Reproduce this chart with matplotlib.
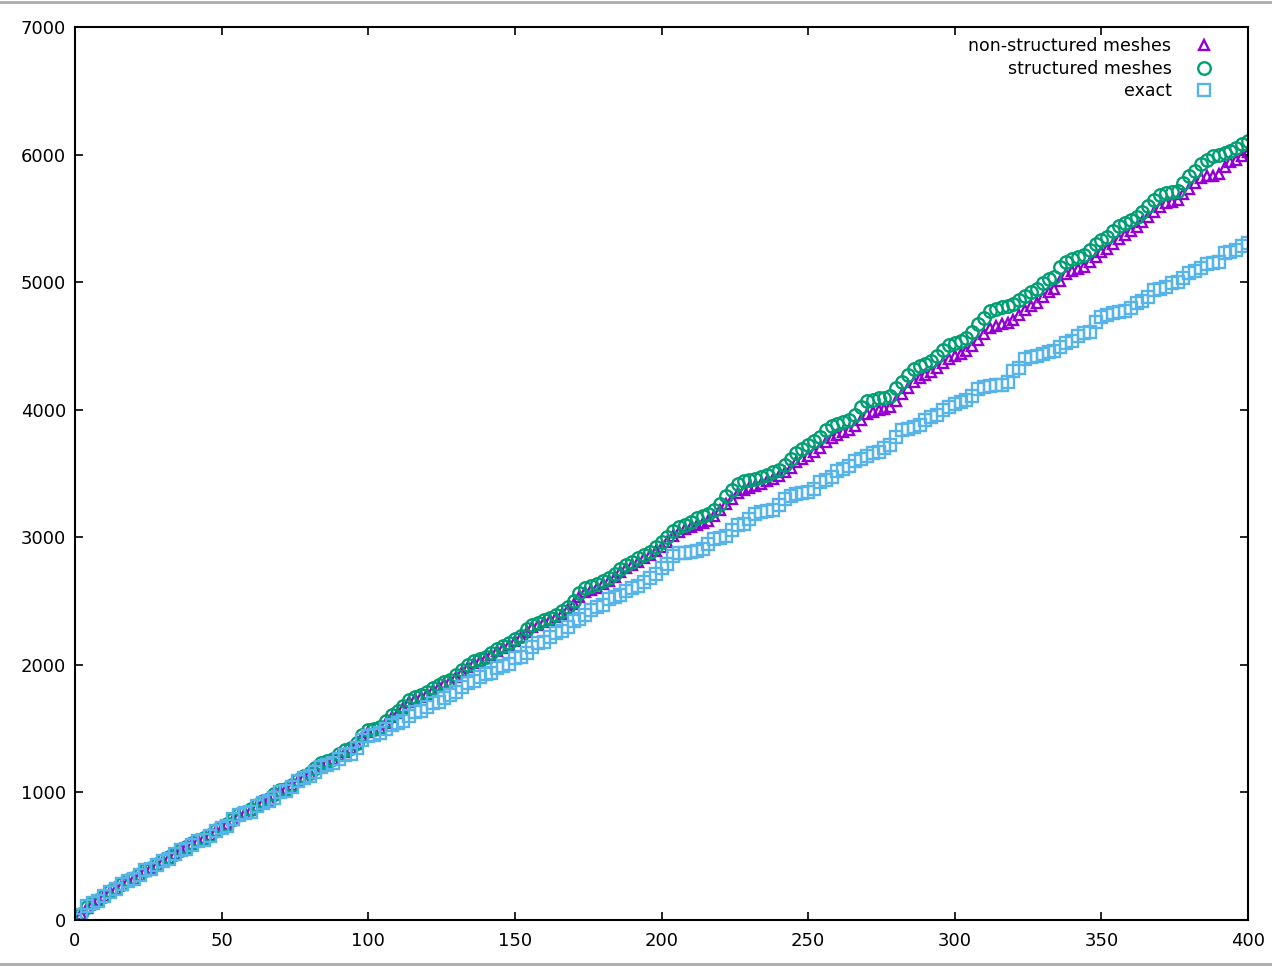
import numpy as np
import matplotlib
matplotlib.use("Agg")
from matplotlib import pyplot as plt
from matplotlib.lines import Line2D


#  -------------------------------------------  data  ------------------------------------------  #

x = np.arange(0, 401, 2)

exact = [
    0, 40, 110, 135, 150, 190, 220, 240, 280, 305,
    320, 355, 390, 400, 430, 465, 480, 520, 545, 555,
    590, 620, 630, 660, 700, 725, 740, 790, 825, 835,
    850, 890, 920, 930, 960, 1000, 1010, 1040, 1090, 1115,
    1130, 1160, 1200, 1215, 1230, 1265, 1290, 1300, 1345, 1410,
    1440, 1450, 1468, 1500, 1530, 1545, 1560, 1600, 1630, 1640,
    1670, 1700, 1710, 1740, 1765, 1790, 1830, 1860, 1870, 1905,
    1925, 1940, 1975, 1990, 2010, 2050, 2065, 2090, 2140, 2170,
    2180, 2215, 2250, 2265, 2300, 2345, 2360, 2390, 2430, 2450,
    2470, 2515, 2535, 2550, 2580, 2602, 2615, 2650, 2680, 2710,
    2760, 2790, 2850, 2875, 2880, 2885, 2890, 2910, 2950, 2985,
    2995, 3010, 3060, 3095, 3105, 3140, 3185, 3195, 3205, 3215,
    3250, 3300, 3320, 3340, 3350, 3355, 3380, 3430, 3450, 3470,
    3520, 3535, 3560, 3600, 3615, 3640, 3660, 3670, 3700, 3725,
    3790, 3840, 3850, 3865, 3880, 3920, 3940, 3960, 4000, 4020,
    4045, 4060, 4075, 4110, 4160, 4175, 4185, 4190, 4195, 4220,
    4300, 4330, 4395, 4410, 4420, 4440, 4450, 4460, 4495, 4520,
    4540, 4580, 4600, 4610, 4690, 4730, 4745, 4755, 4765, 4775,
    4800, 4835, 4850, 4880, 4935, 4950, 4965, 4990, 5000, 5030,
    5075, 5090, 5110, 5140, 5150, 5160, 5230, 5240, 5250, 5280,
    5305]

structured = [
    10, 50, 100, 135, 160, 190, 225, 250, 280, 310,
    330, 360, 390, 410, 440, 470, 490, 520, 550, 570,
    600, 625, 645, 670, 705, 730, 755, 795, 830, 845,
    870, 900, 930, 950, 990, 1020, 1030, 1060, 1100, 1130,
    1155, 1190, 1230, 1250, 1265, 1300, 1330, 1350, 1390, 1450,
    1490, 1500, 1510, 1560, 1605, 1640, 1680, 1725, 1745, 1760,
    1790, 1820, 1840, 1865, 1880, 1920, 1960, 2000, 2030, 2045,
    2060, 2090, 2125, 2145, 2170, 2205, 2230, 2280, 2310, 2330,
    2350, 2370, 2390, 2420, 2455, 2500, 2560, 2600, 2615, 2630,
    2655, 2680, 2710, 2750, 2785, 2810, 2835, 2865, 2885, 2925,
    2960, 3000, 3050, 3080, 3100, 3120, 3150, 3165, 3180, 3215,
    3260, 3320, 3370, 3420, 3440, 3450, 3460, 3470, 3490, 3510,
    3530, 3570, 3610, 3660, 3690, 3720, 3755, 3790, 3840, 3870,
    3890, 3905, 3920, 3960, 4020, 4070, 4080, 4090, 4095, 4105,
    4170, 4220, 4270, 4320, 4340, 4360, 4385, 4420, 4470, 4505,
    4520, 4540, 4560, 4610, 4670, 4720, 4775, 4790, 4805, 4815,
    4825, 4860, 4895, 4925, 4950, 4990, 5025, 5040, 5120, 5160,
    5180, 5200, 5215, 5250, 5300, 5330, 5350, 5400, 5440, 5460,
    5490, 5510, 5550, 5600, 5645, 5680, 5700, 5705, 5715, 5780,
    5830, 5870, 5930, 5955, 5985, 6000, 6010, 6030, 6050, 6080,
    6110]

nonstructured = [
    5, 45, 95, 130, 155, 185, 220, 245, 275, 305,
    325, 355, 385, 405, 435, 465, 485, 515, 545, 565,
    595, 620, 640, 665, 700, 725, 750, 785, 820, 840,
    860, 895, 925, 945, 980, 1010, 1025, 1055, 1090, 1120,
    1150, 1180, 1220, 1240, 1260, 1290, 1320, 1345, 1380, 1435,
    1475, 1490, 1505, 1545, 1590, 1625, 1665, 1710, 1735, 1750,
    1775, 1805, 1830, 1850, 1870, 1905, 1945, 1985, 2015, 2030,
    2050, 2075, 2110, 2135, 2155, 2190, 2215, 2260, 2295, 2315,
    2335, 2355, 2375, 2400, 2435, 2475, 2530, 2570, 2590, 2605,
    2630, 2655, 2685, 2725, 2760, 2780, 2805, 2835, 2860, 2895,
    2925, 2965, 3010, 3045, 3065, 3080, 3095, 3110, 3130, 3165,
    3210, 3260, 3300, 3345, 3370, 3385, 3400, 3415, 3440, 3460,
    3480, 3510, 3545, 3590, 3615, 3640, 3670, 3700, 3745, 3780,
    3805, 3825, 3840, 3870, 3920, 3965, 3985, 3995, 4005, 4020,
    4070, 4120, 4170, 4220, 4250, 4270, 4295, 4325, 4365, 4400,
    4420, 4440, 4460, 4500, 4550, 4595, 4640, 4660, 4670, 4680,
    4700, 4740, 4780, 4810, 4840, 4880, 4920, 4945, 5010, 5060,
    5085, 5105, 5120, 5155, 5200, 5235, 5260, 5300, 5340, 5370,
    5400, 5430, 5470, 5510, 5550, 5590, 5620, 5630, 5640, 5690,
    5730, 5775, 5820, 5830, 5835, 5850, 5900, 5940, 5960, 5990,
    6020]


#  -------------------------------------------  plot  ------------------------------------------  #

plt.rcParams.update({"font.family": "DejaVu Sans", "font.size": 13})

fig = plt.figure(figsize=(12.72, 9.68), dpi=100)
ax = fig.add_axes([75/1272, 48/968, 1173/1272, 893/968])

ax.plot(x, nonstructured, ls='none', marker='^', ms=7, mfc='none', mec='#9400d3', mew=1.7,
        label="non-structured meshes")
ax.plot(x, structured, ls='none', marker='o', ms=9, mfc='none', mec='#009e73', mew=1.7,
        label="structured meshes")
ax.plot(x, exact, ls='none', marker='s', ms=8, mfc='none', mec='#56b4e9', mew=1.7,
        label="exact")

ax.set_xlim((0, 400))
ax.set_ylim((0, 7000))
ax.set_xticks(np.arange(0, 401, 50))
ax.set_yticks(np.arange(0, 7001, 1000))
ax.tick_params(direction='in', length=6, width=1.2, top=True, right=True)
ax.tick_params(axis='x', pad=9)
ax.tick_params(axis='y', pad=6.5)

for s in ax.spines.values():
    s.set_linewidth(1.5)

ax.legend(loc="upper right", bbox_to_anchor=(0.985, 1.006), markerfirst=False, frameon=False,
          handlelength=1.2, handletextpad=1.3, labelspacing=0.25, fontsize=12.5)

# screenshot borders
fig.add_artist(Line2D([0, 1], [0.998, 0.998], color='#aaaaaa', lw=2))
fig.add_artist(Line2D([0, 1], [0.004, 0.004], color='#aaaaaa', lw=2))

plt.savefig("out.png", dpi=100)
